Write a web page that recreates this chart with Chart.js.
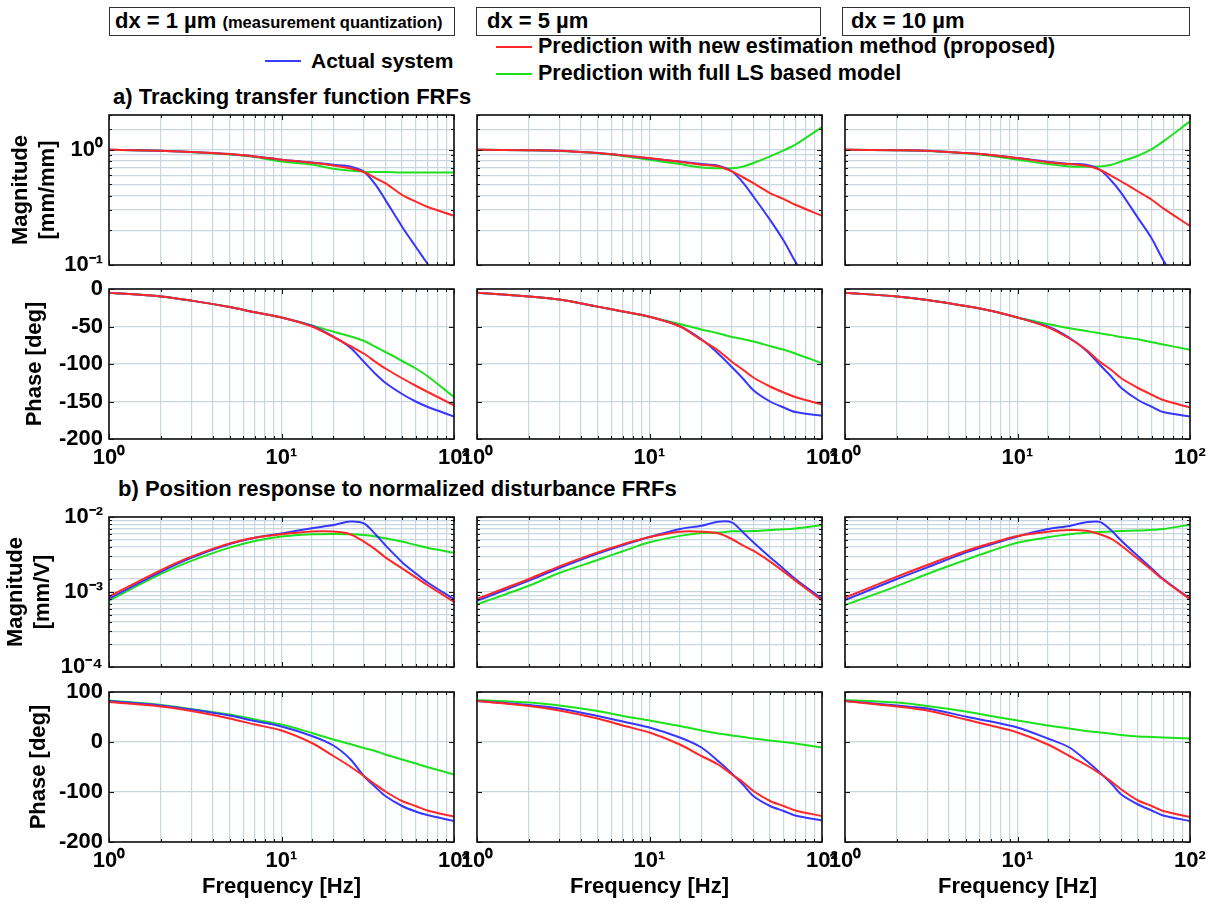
<!DOCTYPE html>
<html>
<head>
<meta charset="utf-8">
<title>FRF comparison</title>
<script src="https://cdn.jsdelivr.net/npm/chart.js@4/dist/chart.umd.min.js"></script>
<style>
    body { margin: 0; background: #fff; font-family: "Liberation Sans", Arial, sans-serif; }
    #page { position: relative; width: 1212px; height: 905px; overflow: hidden; background: #fff; }
    #page canvas { position: absolute; }
    .txt { position: absolute; font-size: 22px; font-weight: bold; line-height: 1; color: #000; white-space: nowrap; }
    .small { font-size: 16.5px; }
    .box { position: absolute; border: 1px solid #333; box-sizing: border-box; height: 29px; }
    .key { position: absolute; height: 2px; width: 36px; }
</style>
</head>
<body>
<div id="page">
    <div class="box" style="left:109px; top:7px; width:346px;"></div>
    <div class="box" style="left:476px; top:7px; width:345px;"></div>
    <div class="box" style="left:842px; top:7px; width:348px;"></div>
    <div class="txt" style="left:115px; top:10px;">dx = 1 µm <span class="small">(measurement quantization)</span></div>
    <div class="txt" style="left:487px; top:10px;">dx = 5 µm</div>
    <div class="txt" style="left:851px; top:10px;">dx = 10 µm</div>

    <div class="key" style="left:265px; top:60px; background:rgb(60,60,255);"></div>
    <div class="txt" style="left:311px; top:50px; font-size:21px;">Actual system</div>
    <div class="key" style="left:496px; top:46px; background:rgb(255,40,40);"></div>
    <div class="txt" style="left:538px; top:36px; font-size:21.5px;">Prediction with new estimation method (proposed)</div>
    <div class="key" style="left:496px; top:73px; background:rgb(30,225,30);"></div>
    <div class="txt" style="left:538px; top:63px; font-size:21.5px;">Prediction with full LS based model</div>

    <div class="txt" style="left:113px; top:86px;">a) Tracking transfer function FRFs</div>
    <div class="txt" style="left:118px; top:478px;">b) Position response to normalized disturbance FRFs</div>
</div>
<script>
// frequency grid shared by every curve [Hz]
const freq = [1, 2, 3, 5, 7, 10, 15, 20, 25, 30, 35, 40, 50, 60, 70, 100];

// a) tracking transfer function, magnitude [mm/mm]
const trkMagActual1 = [1.0, 0.98, 0.955, 0.917, 0.875, 0.82, 0.775, 0.74, 0.716, 0.645, 0.5, 0.367, 0.215, 0.144, 0.103, 0.047];
const trkMagNew1    = [1.0, 0.98, 0.955, 0.917, 0.875, 0.818, 0.77, 0.73, 0.69, 0.64, 0.567, 0.513, 0.406, 0.355, 0.32, 0.267];
const trkMagLS1     = [1.0, 0.98, 0.953, 0.91, 0.865, 0.79, 0.745, 0.684, 0.66, 0.645, 0.64, 0.64, 0.635, 0.635, 0.635, 0.634];
const trkMagActual5 = [1.0, 0.99, 0.98, 0.935, 0.893, 0.84, 0.79, 0.75, 0.726, 0.65, 0.513, 0.393, 0.246, 0.162, 0.107, 0.045];
const trkMagNew5    = [1.0, 0.99, 0.98, 0.935, 0.893, 0.846, 0.785, 0.74, 0.72, 0.648, 0.574, 0.513, 0.42, 0.373, 0.333, 0.267];
const trkMagLS5     = [1.0, 0.99, 0.975, 0.93, 0.88, 0.818, 0.75, 0.70, 0.69, 0.69, 0.716, 0.766, 0.875, 0.986, 1.105, 1.575];
const trkMagActual10 = [1.0, 0.99, 0.98, 0.935, 0.9, 0.846, 0.785, 0.753, 0.74, 0.67, 0.538, 0.42, 0.255, 0.17, 0.11, 0.047];
const trkMagNew10    = [1.0, 0.99, 0.98, 0.935, 0.9, 0.846, 0.78, 0.75, 0.726, 0.67, 0.594, 0.53, 0.434, 0.368, 0.31, 0.218];
const trkMagLS10     = [1.0, 0.99, 0.975, 0.93, 0.885, 0.818, 0.75, 0.716, 0.71, 0.716, 0.74, 0.79, 0.887, 1.01, 1.18, 1.76];

// a) tracking transfer function, phase [deg]
const trkPhActual1 = [-5, -10, -15.5, -24, -31, -38, -49, -63.5, -78, -97, -113, -125, -140, -150, -157, -170];
const trkPhNew1    = [-5, -10, -15.5, -24, -31, -38, -50, -64, -76, -86, -97, -106, -119, -129, -137, -155];
const trkPhLS1     = [-5, -10, -15.5, -24, -31, -38, -48.5, -57, -63, -69, -77, -84, -96, -106, -116, -144];
const trkPhActual5 = [-5, -10, -14, -23.5, -30, -37, -49.5, -67, -86, -104, -120, -135, -150, -158, -164, -169];
const trkPhNew5    = [-5, -10, -14, -23.5, -30, -37, -50, -68, -82, -97, -108, -118, -130, -138, -144, -154];
const trkPhLS5     = [-5, -10, -14, -23.5, -30, -37, -46.7, -54, -59, -64, -67, -70, -76, -81, -86, -99];
const trkPhActual10 = [-5, -10, -14.7, -22.7, -29, -38, -50, -65, -82, -101, -117, -132, -148, -157, -164, -170];
const trkPhNew10    = [-5, -10, -14.7, -22.7, -29, -38, -51, -66, -81, -97, -108, -119, -132, -141, -148, -158];
const trkPhLS10     = [-5, -10, -14.7, -22.7, -29, -38, -46.7, -52.4, -56, -59, -61.5, -64, -67, -71, -74, -81];

// b) position response to disturbance, magnitude [mm/V]
const dstMagActual1 = [8.2e-4, 1.86e-3, 2.85e-3, 4.35e-3, 5.3e-3, 6.05e-3, 7.06e-3, 7.8e-3, 8.7e-3, 8.2e-3, 5.9e-3, 4.2e-3, 2.5e-3, 1.77e-3, 1.35e-3, 8.0e-4];
const dstMagNew1    = [8.7e-4, 1.96e-3, 2.96e-3, 4.45e-3, 5.3e-3, 5.9e-3, 6.4e-3, 6.4e-3, 5.9e-3, 4.7e-3, 3.7e-3, 2.9e-3, 2.07e-3, 1.57e-3, 1.24e-3, 7.4e-4];
const dstMagLS1     = [7.7e-4, 1.74e-3, 2.6e-3, 3.9e-3, 4.8e-3, 5.5e-3, 5.9e-3, 5.95e-3, 5.9e-3, 5.75e-3, 5.5e-3, 5.2e-3, 4.7e-3, 4.23e-3, 3.9e-3, 3.34e-3];
const dstMagActual5 = [7.6e-4, 1.42e-3, 2.09e-3, 3.25e-3, 4.2e-3, 5.4e-3, 6.92e-3, 7.66e-3, 8.66e-3, 8.5e-3, 6.18e-3, 4.6e-3, 2.9e-3, 2.03e-3, 1.49e-3, 8.1e-4];
const dstMagNew5    = [8.07e-4, 1.49e-3, 2.2e-3, 3.38e-3, 4.32e-3, 5.4e-3, 6.37e-3, 6.37e-3, 6.06e-3, 5.09e-3, 4.14e-3, 3.55e-3, 2.54e-3, 1.87e-3, 1.42e-3, 7.7e-4];
const dstMagLS5     = [6.85e-4, 1.21e-3, 1.79e-3, 2.67e-3, 3.49e-3, 4.6e-3, 5.6e-3, 6.12e-3, 6.2e-3, 6.45e-3, 6.47e-3, 6.5e-3, 6.7e-3, 6.85e-3, 7.05e-3, 7.8e-3];
const dstMagActual10 = [7.8e-4, 1.49e-3, 2.13e-3, 3.35e-3, 4.3e-3, 5.5e-3, 6.9e-3, 7.6e-3, 8.5e-3, 8.6e-3, 6.6e-3, 4.83e-3, 3.0e-3, 2.06e-3, 1.49e-3, 8.1e-4];
const dstMagNew10    = [8.4e-4, 1.6e-3, 2.29e-3, 3.52e-3, 4.46e-3, 5.58e-3, 6.37e-3, 6.7e-3, 6.55e-3, 5.9e-3, 5.1e-3, 4.14e-3, 2.75e-3, 1.96e-3, 1.46e-3, 8.0e-4];
const dstMagLS10     = [6.7e-4, 1.2e-3, 1.74e-3, 2.67e-3, 3.52e-3, 4.54e-3, 5.36e-3, 5.88e-3, 6.15e-3, 6.3e-3, 6.4e-3, 6.5e-3, 6.6e-3, 6.75e-3, 6.9e-3, 7.9e-3];

// b) position response to disturbance, phase [deg]
const dstPhActual1 = [82, 73, 65, 53, 42, 31, 12, -7, -34, -68, -90, -108, -128, -139, -146, -158];
const dstPhNew1    = [80, 71, 62, 47, 35, 23, -2, -28, -49, -68, -85, -99, -118, -128, -137, -149];
const dstPhLS1     = [83, 74, 66, 55, 45, 35, 18, 5, -4, -12, -18, -25, -35, -43, -50, -65];
const dstPhActual5 = [82, 74, 67, 52, 41, 29, 9, -11, -38, -63, -86, -108, -128, -138, -147, -157];
const dstPhNew5    = [82, 72, 63, 47, 33, 19, -5, -28, -45, -65, -81, -98, -118, -128, -137, -148];
const dstPhLS5     = [84, 79, 73, 62, 52, 43, 32, 23, 17, 13, 10, 7, 3, 0, -3, -11];
const dstPhActual10 = [82, 73, 67, 51, 41, 29, 7, -11, -37, -61, -83, -105, -125, -137, -147, -158];
const dstPhNew10    = [82, 71, 63, 45, 33, 19, -5, -28, -46, -63, -79, -95, -117, -128, -138, -150];
const dstPhLS10     = [84, 79, 72, 61, 52, 43, 33, 27, 22, 19, 16.5, 14, 11, 10, 9, 7];

// one row per plot row, one entry per dx column: [new, actual, LS]
const rowsData = [
    [[trkMagNew1, trkMagActual1, trkMagLS1], [trkMagNew5, trkMagActual5, trkMagLS5], [trkMagNew10, trkMagActual10, trkMagLS10]],
    [[trkPhNew1, trkPhActual1, trkPhLS1], [trkPhNew5, trkPhActual5, trkPhLS5], [trkPhNew10, trkPhActual10, trkPhLS10]],
    [[dstMagNew1, dstMagActual1, dstMagLS1], [dstMagNew5, dstMagActual5, dstMagLS5], [dstMagNew10, dstMagActual10, dstMagLS10]],
    [[dstPhNew1, dstPhActual1, dstPhLS1], [dstPhNew5, dstPhActual5, dstPhLS5], [dstPhNew10, dstPhActual10, dstPhLS10]]
];

const yAxes = [
    { type: 'logarithmic', min: 0.1, max: 2, title: ['Magnitude', '[mm/mm]'], titlePad: 8 },
    { type: 'linear', min: -200, max: 0, step: 50, title: 'Phase [deg]', titlePad: 22 },
    { type: 'logarithmic', min: 1e-4, max: 1e-2, title: ['Magnitude', '[mm/V]'], titlePad: 3 },
    { type: 'linear', min: -200, max: 100, step: 100, title: 'Phase [deg]', titlePad: 26 }
];

const lineColors = ['rgb(255,40,40)', 'rgb(55,55,255)', 'rgb(30,225,30)'];
const gridColor = 'rgb(200,214,224)';

// layout of the plot boxes on the page
const colLeft = [109, 477, 845];
const rowTop = [115, 289, 517, 692];
const plotW = 345, plotH = 150;

Chart.defaults.font.family = '"Liberation Sans", Arial, sans-serif';
Chart.defaults.font.size = 22;
Chart.defaults.font.weight = 'bold';
Chart.defaults.color = '#000';

const SUP = { '0': '\u2070', '1': '\u00b9', '2': '\u00b2', '3': '\u00b3', '4': '\u2074', '-': '\u207b' };
function isDecade(v) {
    const l = Math.log10(v);
    return Math.abs(l - Math.round(l)) < 1e-6;
}
function decadeLabel(v) {
    const e = String(Math.round(Math.log10(v)));
    return '10' + e.split('').map(ch => SUP[ch]).join('');
}

// black box around the plot with short inward ticks
const framePlugin = {
    id: 'frame',
    afterDraw(chart) {
        const { ctx, chartArea: a, scales } = chart;
        ctx.save();
        ctx.strokeStyle = '#111';
        ctx.lineWidth = 1;
        ctx.beginPath();
        scales.x.ticks.forEach(t => {
            const px = Math.round(scales.x.getPixelForValue(t.value)) + 0.5;
            const len = isDecade(t.value) ? 5 : 3;
            ctx.moveTo(px, a.bottom); ctx.lineTo(px, a.bottom - len);
            ctx.moveTo(px, a.top); ctx.lineTo(px, a.top + len);
        });
        const ylog = scales.y.type === 'logarithmic';
        scales.y.ticks.forEach(t => {
            const py = Math.round(scales.y.getPixelForValue(t.value)) + 0.5;
            const len = (!ylog || isDecade(t.value)) ? 5 : 3;
            ctx.moveTo(a.left, py); ctx.lineTo(a.left + len, py);
            ctx.moveTo(a.right, py); ctx.lineTo(a.right - len, py);
        });
        ctx.stroke();
        ctx.lineWidth = 1.6;
        ctx.strokeRect(a.left, a.top, a.width, a.height);
        ctx.restore();
    }
};

const page = document.getElementById('page');

function makePanel(r, c) {
    // margins around the plot box; wide enough for the edge tick labels
    const padL = c === 0 ? 109 : 24;
    const padR = 24;
    const padT = 22;
    const padB = r === 3 ? 60 : (r === 1 ? 40 : 22);
    const canvas = document.createElement('canvas');
    canvas.width = padL + plotW + padR;
    canvas.height = padT + plotH + padB;
    canvas.style.left = (colLeft[c] - padL) + 'px';
    canvas.style.top = (rowTop[r] - padT) + 'px';
    page.appendChild(canvas);

    const ya = yAxes[r];
    const showX = r === 1 || r === 3;
    const series = rowsData[r][c];
    const names = ['Prediction with new estimation method (proposed)', 'Actual system', 'Prediction with full LS based model'];

    const yScale = {
        type: ya.type,
        min: ya.min,
        max: ya.max,
        afterFit: s => { s.width = padL; },
        border: { display: false },
        grid: { color: gridColor, lineWidth: 1.2, drawTicks: false },
        ticks: {
            display: c === 0,
            autoSkip: false,
            padding: 6,
            font: { size: 22 },
            callback: v => ya.type === 'logarithmic' ? (isDecade(v) ? decadeLabel(v) : '') : v
        },
        title: {
            display: c === 0,
            text: ya.title,
            font: { size: 22 },
            padding: { top: ya.titlePad, bottom: 0 }
        }
    };
    if (ya.step) yScale.ticks.stepSize = ya.step;

    new Chart(canvas, {
        type: 'line',
        data: {
            labels: freq,
            datasets: series.map((vals, i) => ({
                label: names[i],
                data: freq.map((f, k) => ({ x: f, y: vals[k] })),
                borderColor: lineColors[i],
                borderWidth: 2,
                pointRadius: 0,
                tension: 0.3
            }))
        },
        options: {
            responsive: false,
            animation: false,
            devicePixelRatio: 1,
            layout: { padding: { top: padT, right: padR, left: 0, bottom: 0 } },
            plugins: { legend: { display: false }, tooltip: { enabled: false } },
            scales: {
                x: {
                    type: 'logarithmic',
                    min: 1,
                    max: 100,
                    afterFit: s => { s.height = padB; },
                    border: { display: false },
                    grid: { color: gridColor, lineWidth: 1.2, drawTicks: false },
                    ticks: {
                        display: showX,
                        autoSkip: false,
                        maxRotation: 0,
                        padding: 6,
                        font: { size: 22 },
                        callback: v => isDecade(v) ? decadeLabel(v) : ''
                    },
                    title: {
                        display: r === 3,
                        text: 'Frequency [Hz]',
                        font: { size: 22 },
                        padding: { top: 0, bottom: 2 }
                    }
                },
                y: yScale
            }
        },
        plugins: [framePlugin]
    });
}

for (let r = 0; r < 4; r++) {
    for (let c = 0; c < 3; c++) makePanel(r, c);
}
</script>
</body>
</html>
